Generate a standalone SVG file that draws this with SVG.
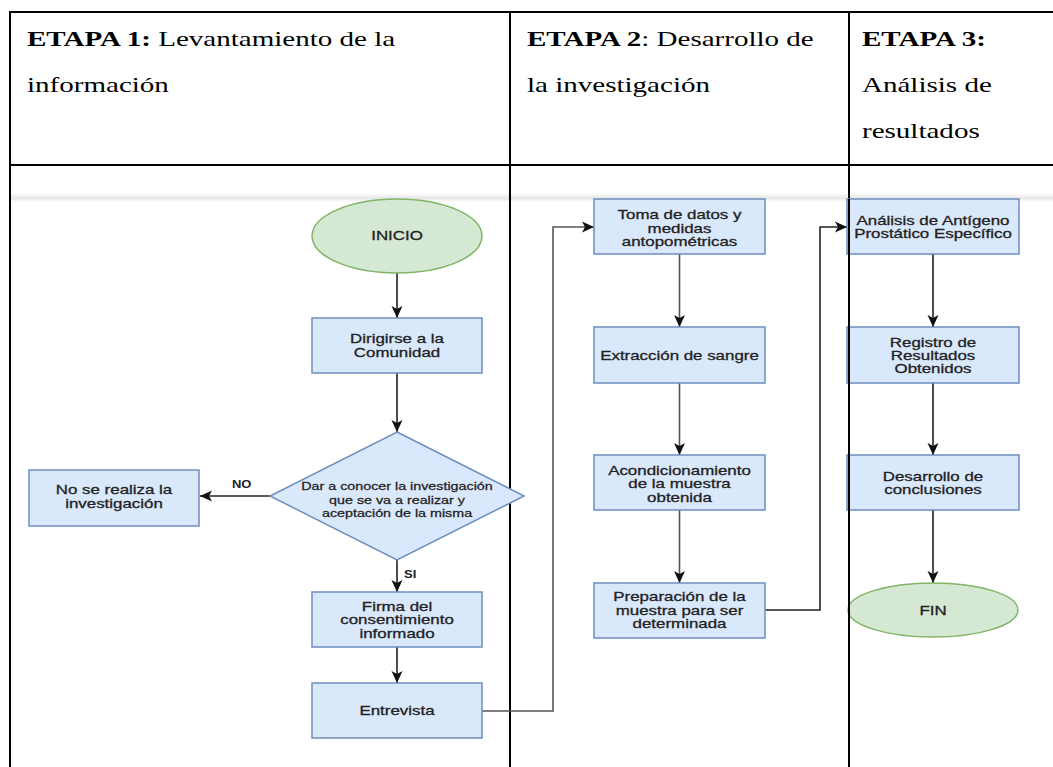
<svg xmlns="http://www.w3.org/2000/svg" width="1053" height="767" viewBox="0 0 1053 767">
<style>
.hd{font-family:"Liberation Serif","Times New Roman",serif;font-size:22px;fill:#000}
.b{font-weight:bold}
.box{fill:#dae8fc;stroke:#6c8ebf;stroke-width:1.5}
.term{fill:#d5e8d4;stroke:#82b366;stroke-width:1.5}
.t{font-family:"Liberation Sans",Arial,sans-serif;font-size:13px;fill:#222;stroke:#222;stroke-width:0.3;text-anchor:middle}
.ts{font-family:"Liberation Sans",Arial,sans-serif;font-size:11px;fill:#222;stroke:#222;stroke-width:0.25;text-anchor:middle}
.lb{font-family:"Liberation Sans",Arial,sans-serif;font-size:10px;fill:#222;font-weight:bold}
.c{fill:none;stroke:#222;stroke-width:1.6}
.cg{fill:none;stroke:#555;stroke-width:1.6}
.grid{stroke:#000;stroke-width:2;fill:none}
</style>
<defs>
<marker id="ah" markerUnits="userSpaceOnUse" markerWidth="14" markerHeight="14" viewBox="0 0 14 14" refX="12" refY="7" orient="auto">
<path d="M0,1.5 L12,7 L0,12.5 L3,7 z" fill="#111"/>
</marker>
<linearGradient id="sh" x1="0" y1="0" x2="0" y2="1">
<stop offset="0" stop-color="#ffffff"/>
<stop offset="0.6" stop-color="#e6e6e6"/>
<stop offset="1" stop-color="#ffffff"/>
</linearGradient>
</defs>
<rect width="1053" height="767" fill="#ffffff"/>
<rect x="10" y="193" width="1043" height="9" fill="url(#sh)"/>

<g id="table">
<line class="grid" x1="9" y1="12" x2="1053" y2="12"/>
<line class="grid" x1="9" y1="165" x2="1053" y2="165"/>
<line class="grid" x1="10" y1="11" x2="10" y2="767"/>
<line class="grid" x1="510" y1="11" x2="510" y2="767"/>
<line class="grid" x1="849" y1="11" x2="849" y2="767"/>
</g>

<g id="headers">
<text class="hd" transform="translate(27,0) scale(1.32,1)"><tspan x="0" y="46"><tspan class="b">ETAPA 1:</tspan> Levantamiento de la</tspan><tspan x="0" y="92">información</tspan></text>
<text class="hd" transform="translate(527,0) scale(1.32,1)"><tspan x="0" y="46"><tspan class="b">ETAPA 2</tspan>: Desarrollo de</tspan><tspan x="0" y="92">la investigación</tspan></text>
<text class="hd" transform="translate(862,0) scale(1.32,1)"><tspan x="0" y="46" class="b">ETAPA 3:</tspan><tspan x="0" y="92">Análisis de</tspan><tspan x="0" y="138">resultados</tspan></text>
</g>

<g id="connectors">
<path class="c" d="M397,273 V318" marker-end="url(#ah)"/>
<path class="c" d="M397,373 V432" marker-end="url(#ah)"/>
<path class="c" d="M270,496 H200" marker-end="url(#ah)"/>
<path class="c" d="M397,560 V592" marker-end="url(#ah)"/>
<path class="c" d="M397,647 V683" marker-end="url(#ah)"/>
<path class="cg" d="M482,711 H553 V227 H594" marker-end="url(#ah)"/>
<path class="cg" d="M679.5,254 V327" marker-end="url(#ah)"/>
<path class="cg" d="M679.5,383 V455" marker-end="url(#ah)"/>
<path class="cg" d="M679.5,510 V583" marker-end="url(#ah)"/>
<path class="c" d="M765,610 H820 V227 H847" marker-end="url(#ah)"/>
<path class="c" d="M933,254 V327" marker-end="url(#ah)"/>
<path class="c" d="M933,383 V455" marker-end="url(#ah)"/>
<path class="c" d="M933,510 V583" marker-end="url(#ah)"/>
<text class="lb" transform="translate(232,0) scale(1.3,1)" x="0" y="488">NO</text>
<text class="lb" transform="translate(404,0) scale(1.3,1)" x="0" y="578">SI</text>
</g>

<g id="inicio">
<ellipse class="term" cx="397" cy="236" rx="85" ry="37"/>
<text class="t" transform="translate(397,0) scale(1.3,1)" x="0" y="240.5">INICIO</text>
</g>
<g id="dirigirse">
<rect class="box" x="312" y="318" width="170" height="55"/>
<text class="t" transform="translate(397,0) scale(1.3,1)"><tspan x="0" y="343.5">Dirigirse a la</tspan><tspan x="0" y="357">Comunidad</tspan></text>
</g>
<g id="decision">
<polygon class="box" points="397,432 524,496 397,560 270,496"/>
<text class="ts" transform="translate(397,0) scale(1.3,1)"><tspan x="0" y="490.5">Dar a conocer la investigación</tspan><tspan x="0" y="504">que se va a realizar y</tspan><tspan x="0" y="517.5">aceptación de la misma</tspan></text>
</g>
<g id="no-realiza">
<rect class="box" x="29" y="470" width="170" height="56"/>
<text class="t" transform="translate(114,0) scale(1.3,1)"><tspan x="0" y="494.5">No se realiza la</tspan><tspan x="0" y="508">investigación</tspan></text>
</g>
<g id="firma">
<rect class="box" x="312" y="592" width="170" height="55"/>
<text class="t" transform="translate(397,0) scale(1.3,1)"><tspan x="0" y="611">Firma del</tspan><tspan x="0" y="624.5">consentimiento</tspan><tspan x="0" y="638">informado</tspan></text>
</g>
<g id="entrevista">
<rect class="box" x="312" y="683" width="170" height="55"/>
<text class="t" transform="translate(397,0) scale(1.3,1)" x="0" y="715">Entrevista</text>
</g>
<g id="toma">
<rect class="box" x="594" y="199" width="171" height="55"/>
<text class="t" transform="translate(679.5,0) scale(1.3,1)"><tspan x="0" y="219.5">Toma de datos y</tspan><tspan x="0" y="233">medidas</tspan><tspan x="0" y="246.5">antopométricas</tspan></text>
</g>
<g id="extraccion">
<rect class="box" x="594" y="327" width="171" height="56"/>
<text class="t" transform="translate(679.5,0) scale(1.3,1)" x="0" y="360">Extracción de sangre</text>
</g>
<g id="acondicionamiento">
<rect class="box" x="594" y="455" width="171" height="55"/>
<text class="t" transform="translate(679.5,0) scale(1.3,1)"><tspan x="0" y="475">Acondicionamiento</tspan><tspan x="0" y="488.5">de la muestra</tspan><tspan x="0" y="502">obtenida</tspan></text>
</g>
<g id="preparacion">
<rect class="box" x="594" y="583" width="171" height="55"/>
<text class="t" transform="translate(679.5,0) scale(1.3,1)"><tspan x="0" y="601.5">Preparación de la</tspan><tspan x="0" y="615">muestra para ser</tspan><tspan x="0" y="628.5">determinada</tspan></text>
</g>
<g id="analisis">
<rect class="box" x="847" y="199" width="172" height="55"/>
<text class="t" transform="translate(933,0) scale(1.3,1)"><tspan x="0" y="225">Análisis de Antígeno</tspan><tspan x="0" y="238.5">Prostático Específico</tspan></text>
</g>
<g id="registro">
<rect class="box" x="847" y="327" width="172" height="56"/>
<text class="t" transform="translate(933,0) scale(1.3,1)"><tspan x="0" y="347">Registro de</tspan><tspan x="0" y="360">Resultados</tspan><tspan x="0" y="373">Obtenidos</tspan></text>
</g>
<g id="desarrollo">
<rect class="box" x="847" y="455" width="172" height="55"/>
<text class="t" transform="translate(933,0) scale(1.3,1)"><tspan x="0" y="481">Desarrollo de</tspan><tspan x="0" y="494.5">conclusiones</tspan></text>
</g>
<g id="fin">
<ellipse class="term" cx="933" cy="610" rx="85" ry="27"/>
<text class="t" transform="translate(933,0) scale(1.3,1)" x="0" y="615">FIN</text>
</g>
<line class="grid" x1="849" y1="199" x2="849" y2="767"/>
</svg>
